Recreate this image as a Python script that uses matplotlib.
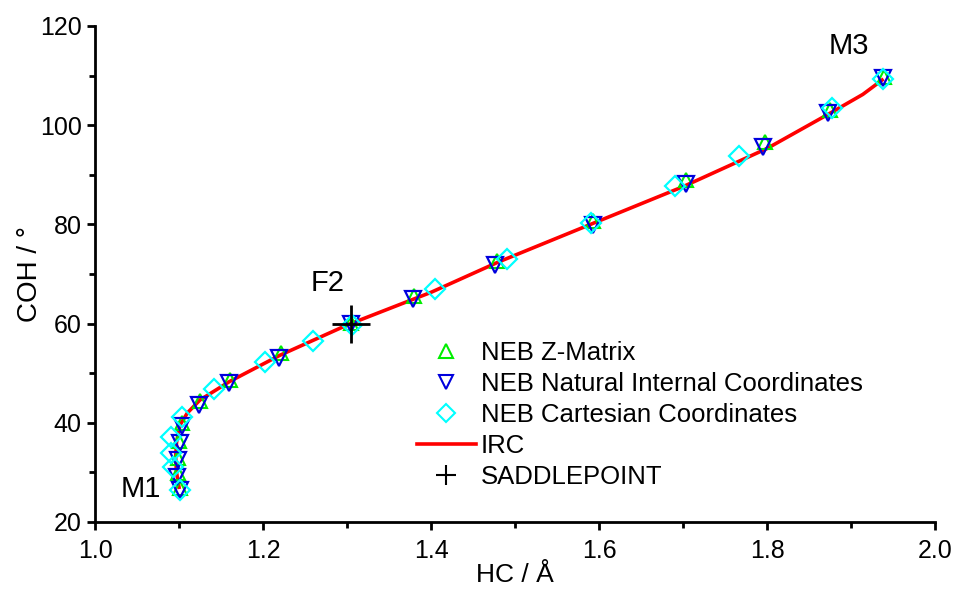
import matplotlib
matplotlib.use('Agg')
import matplotlib.pyplot as plt
from matplotlib.ticker import MultipleLocator

plt.rcParams['font.family'] = ['Liberation Sans', 'DejaVu Sans']

# NEB Z-Matrix
zmat_x = [1.101, 1.099, 1.099, 1.100, 1.104, 1.125, 1.161, 1.221, 1.305, 1.380, 1.478, 1.593, 1.704, 1.797, 1.875, 1.939]
zmat_y = [26.8, 29.8, 32.8, 36.3, 40.0, 44.3, 48.7, 54.0, 60.2, 65.6, 72.6, 80.7, 88.9, 96.6, 103.1, 109.8]

# NEB natural internal coordinates
nic_x = [1.101, 1.098, 1.099, 1.101, 1.103, 1.124, 1.160, 1.219, 1.305, 1.379, 1.476, 1.593, 1.704, 1.795, 1.873, 1.938]
nic_y = [26.5, 29.1, 32.5, 35.9, 39.4, 43.6, 48.0, 53.1, 59.9, 64.9, 71.8, 79.9, 88.1, 95.7, 102.4, 109.5]

# NEB cartesian coordinates
cart_x = [1.101, 1.093, 1.091, 1.091, 1.103, 1.142, 1.202, 1.259, 1.306, 1.405, 1.490, 1.591, 1.690, 1.767, 1.877, 1.938]
cart_y = [26.5, 31.1, 33.9, 37.2, 41.2, 46.8, 52.3, 56.4, 59.7, 67.0, 73.0, 80.3, 87.7, 93.8, 103.4, 109.3]

# IRC path
irc_x = [1.100, 1.097, 1.096, 1.097, 1.101, 1.110, 1.125, 1.160, 1.220, 1.300, 1.400, 1.480, 1.600, 1.700, 1.800, 1.877, 1.914, 1.937]
irc_y = [27.0, 30.0, 33.0, 36.0, 39.5, 42.0, 44.6, 48.3, 53.6, 59.7, 66.3, 72.4, 80.7, 87.6, 95.3, 102.6, 106.2, 109.1]

saddle_x = [1.305]
saddle_y = [60.0]

fig = plt.figure(figsize=(9.55, 5.89), dpi=100)
ax = fig.add_axes([0.0995, 0.1138, 0.8796, 0.8421])

ax.plot(irc_x, irc_y, color='#ff0000', lw=2.6, label='IRC', zorder=2)
ax.plot(zmat_x, zmat_y, ls='none', marker='^', ms=10, mfc='none', mec='#00ee00', mew=1.5,
        label='NEB Z-Matrix', zorder=3)
ax.plot(nic_x, nic_y, ls='none', marker='v', ms=12, mfc='none', mec='#0000dd', mew=1.6,
        label='NEB Natural Internal Coordinates', zorder=4)
ax.plot(cart_x, cart_y, ls='none', marker='D', ms=10, mfc='none', mec='#00ffff', mew=1.6,
        label='NEB Cartesian Coordinates', zorder=5)
ax.plot(saddle_x, saddle_y, ls='none', marker='+', ms=28, mec='black', mew=2,
        label='SADDLEPOINT', zorder=6)

ax.set_xlim(1.0, 2.0)
ax.set_ylim(20, 120)
ax.xaxis.set_major_locator(MultipleLocator(0.2))
ax.xaxis.set_minor_locator(MultipleLocator(0.1))
ax.yaxis.set_major_locator(MultipleLocator(20))
ax.yaxis.set_minor_locator(MultipleLocator(10))
ax.xaxis.set_major_formatter(plt.FuncFormatter(lambda v, p: f'{v:.1f}'))

for s in ['top', 'right']:
    ax.spines[s].set_visible(False)
for s in ['left', 'bottom']:
    ax.spines[s].set_linewidth(2)

ax.tick_params(which='both', direction='out', width=2, labelsize=18)
ax.tick_params(which='major', length=6)
ax.tick_params(which='minor', length=4)
ax.tick_params(axis='x', pad=6)

ax.set_xlabel('HC / Å', fontsize=19, labelpad=0)
ax.set_ylabel('COH / °', fontsize=20, labelpad=-2)

ax.text(1.054, 26.7, 'M1', fontsize=21, ha='center', va='center')
ax.text(1.277, 68.2, 'F2', fontsize=21, ha='center', va='center')
ax.text(1.897, 115.9, 'M3', fontsize=21, ha='center', va='center')

handles, labels = ax.get_legend_handles_labels()
order = [1, 2, 3, 0, 4]
leg = ax.legend([handles[i] for i in order], [labels[i] for i in order],
                loc='upper left', bbox_to_anchor=(0.383, 0.365), frameon=False,
                fontsize=18.5, labelspacing=0.27, handlelength=2.3, handletextpad=0.2,
                borderpad=0, borderaxespad=0)
for h, ms in zip(leg.legend_handles, [10, 10, 9, None, 15]):
    if ms is not None:
        h.set_markersize(ms)
        h.set_markeredgewidth(1.5)

fig.savefig('out.png', dpi=100)
